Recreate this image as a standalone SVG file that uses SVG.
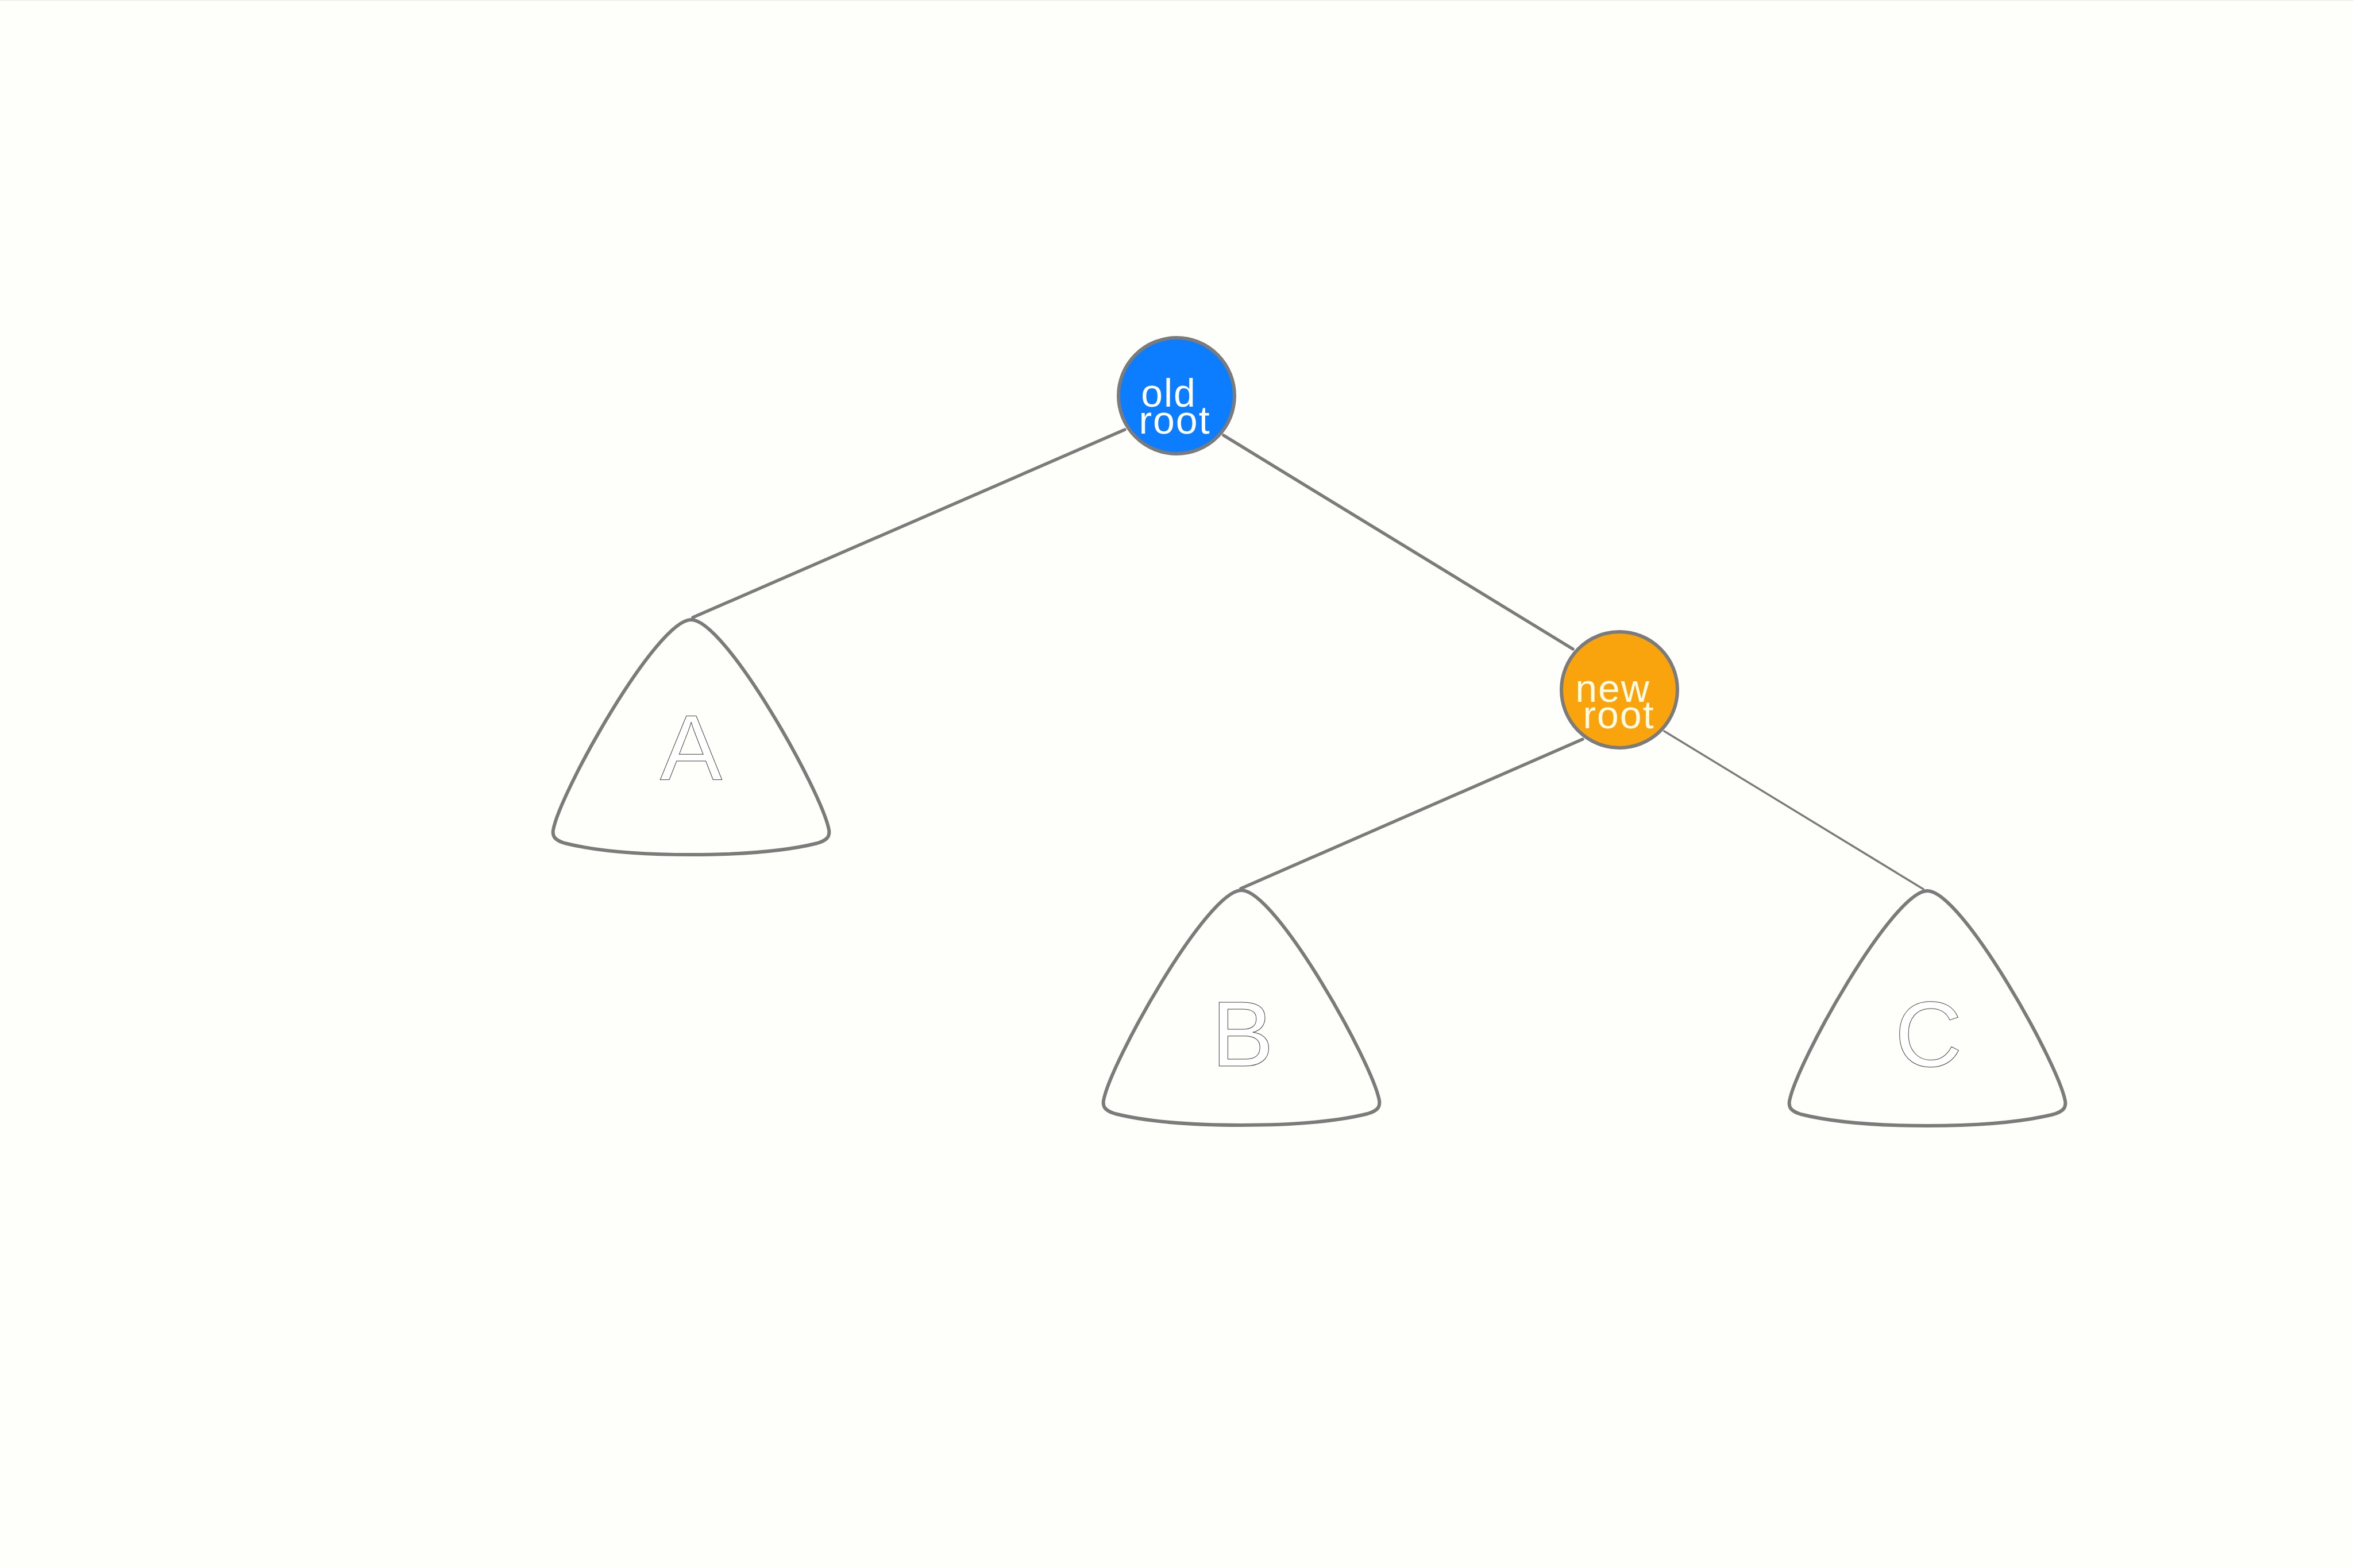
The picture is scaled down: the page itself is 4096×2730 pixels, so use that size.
<svg xmlns="http://www.w3.org/2000/svg" width="4096" height="2730" viewBox="0 0 4096 2730">
  <defs>
    <style>
      .edge { stroke: #7b7b7b; stroke-width: 5.5; stroke-linecap: round; fill: none; }
      .edge-thin { stroke-width: 3.5; }
      .subtree { fill: #fefefa; stroke: #7b7b7b; stroke-width: 6; stroke-linejoin: round; }
      .subtree-label { font-family: "Liberation Sans", Arial, sans-serif; font-size: 162px; fill: #ffffff; stroke: #444444; stroke-width: 1; text-anchor: middle; }
      .node-ring { stroke: #7b7b7b; stroke-width: 6; }
      .node-label { font-family: "Liberation Sans", Arial, sans-serif; font-size: 68px; letter-spacing: 2px; text-anchor: middle; }
    </style>
    <!-- rounded triangle with bulging sides and rounded base corners, apex at the origin -->
    <path id="subtree-shape" d="M 0,0
      C -60,0 -228,300 -240,366
      C -242,378 -236,384 -220,389
      C -160,404 -80,409 0,409
      C 80,409 160,404 220,389
      C 236,384 242,378 240,366
      C 228,300 60,0 0,0 Z"/>
  </defs>

  <rect x="0" y="0" width="4096" height="2730" fill="#fefefa"/>
  <line x1="0" y1="0.5" x2="4096" y2="0.5" stroke="#e6e6e0" stroke-width="1"/>

  <g id="connectors">
    <line class="edge" x1="1958" y1="748" x2="1206" y2="1075"/>
    <line class="edge" x1="2130" y1="758" x2="2738" y2="1130"/>
    <line class="edge" x1="2755" y1="1287" x2="2160" y2="1547"/>
    <line class="edge edge-thin" x1="2897" y1="1273" x2="3348" y2="1548"/>
  </g>

  <g id="subtree-A">
    <use href="#subtree-shape" class="subtree" x="1203" y="1079"/>
    <text class="subtree-label" x="1203" y="1358">A</text>
  </g>

  <g id="subtree-B">
    <use href="#subtree-shape" class="subtree" x="2161" y="1550"/>
    <text class="subtree-label" x="2163" y="1856">B</text>
  </g>

  <g id="subtree-C">
    <use href="#subtree-shape" class="subtree" x="3355" y="1551"/>
    <text class="subtree-label" x="3357" y="1856">C</text>
  </g>

  <g id="old-root">
    <circle class="node-ring" cx="2048" cy="689" r="101" fill="#0b7dfe"/>
    <text class="node-label" fill="#ffffff">
      <tspan x="2045" y="708">old</tspan>
      <tspan x="2045" y="755">root</tspan>
    </text>
  </g>

  <g id="new-root">
    <circle class="node-ring" cx="2819" cy="1201" r="101" fill="#f9a40d"/>
    <text class="node-label" fill="#fffbe4">
      <tspan x="2818" y="1222">new</tspan>
      <tspan x="2818" y="1268">root</tspan>
    </text>
  </g>
</svg>
